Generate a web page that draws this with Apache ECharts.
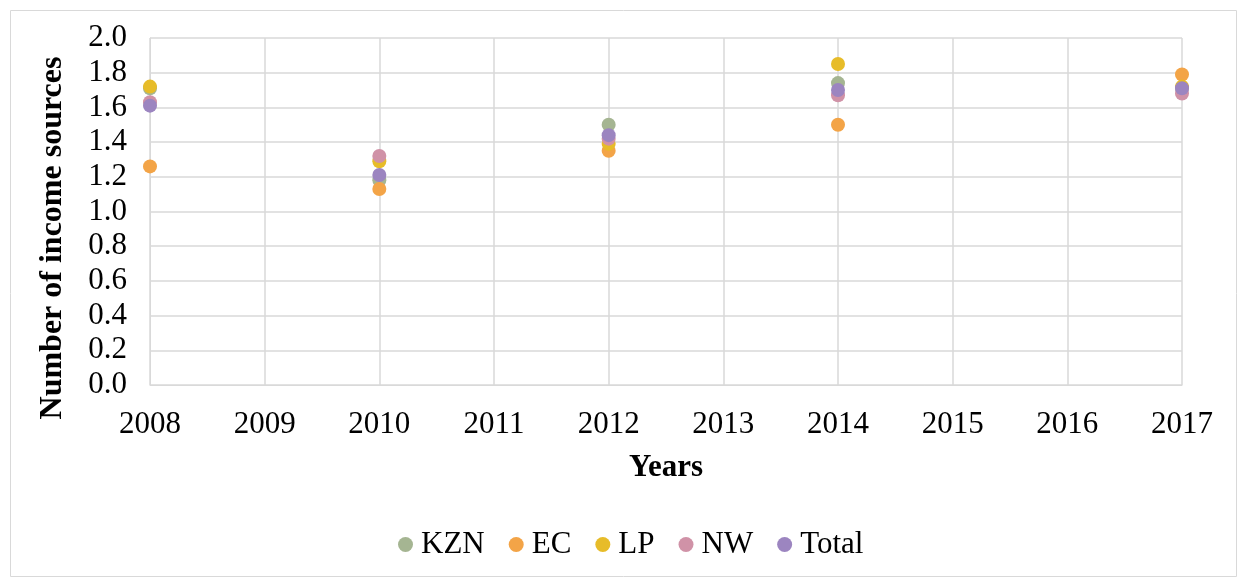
<!DOCTYPE html>
<html><head><meta charset="utf-8">
<script src="https://cdn.jsdelivr.net/npm/echarts@6/dist/echarts.min.js"></script>
<style>html,body{margin:0;padding:0;background:#fff}#c{width:1239px;height:579px}</style>
</head><body><div id="c"></div>
<script>
const years = [2008, 2010, 2012, 2014, 2017];
const seriesNames = ['KZN', 'EC', 'LP', 'NW', 'Total'];
const KZN = [1.71, 1.18, 1.50, 1.74, 1.71];
const EC = [1.26, 1.13, 1.35, 1.50, 1.79];
const LP = [1.72, 1.29, 1.39, 1.85, 1.72];
const NW = [1.63, 1.32, 1.42, 1.67, 1.68];
const Total = [1.61, 1.21, 1.44, 1.70, 1.71];
const colors = ['#a5b592', '#f3a447', '#e7bc29', '#d092a7', '#9c85c0'];
const values = [KZN, EC, LP, NW, Total];
const yTitle = 'Number of income sources';
const font = 'Liberation Serif, Times New Roman, serif';

const chart = echarts.init(document.getElementById('c'));
chart.setOption({
  animation: false,
  textStyle: {fontFamily: font},
  graphic: [
    {type: 'rect', shape: {x: 10.5, y: 10.5, width: 1226, height: 566}, style: {fill: 'none', stroke: '#d9d9d9', lineWidth: 1}, z: -1},
    {type: 'text', x: 53, y: 238, rotation: Math.PI / 2,
     style: {text: yTitle, fontFamily: font, fontSize: 32, fontWeight: 'bold', fill: '#000', align: 'center', verticalAlign: 'middle'}}
  ],
  grid: {left: 150, right: 57, top: 38, bottom: 194},
  xAxis: {
    type: 'value', min: 2008, max: 2017, interval: 1,
    name: 'Years', nameLocation: 'middle', nameGap: 67,
    nameTextStyle: {fontFamily: font, fontSize: 31, fontWeight: 'bold', color: '#000'},
    axisLine: {lineStyle: {color: '#d9d9d9'}},
    axisTick: {show: false},
    axisLabel: {fontFamily: font, fontSize: 31, color: '#000', margin: 24, formatter: v => String(v)},
    splitLine: {show: true, lineStyle: {color: '#d9d9d9', width: 1.5}}
  },
  yAxis: {
    type: 'value', min: 0, max: 2, interval: 0.2,
    axisLine: {show: true, lineStyle: {color: '#d9d9d9'}},
    axisTick: {show: false},
    axisLabel: {fontFamily: font, fontSize: 31, color: '#000', margin: 23, formatter: v => v.toFixed(1)},
    splitLine: {show: true, lineStyle: {color: '#d9d9d9', width: 1.5}}
  },
  legend: {
    top: 524, left: 393, icon: 'circle', itemWidth: 15, itemHeight: 15, itemGap: 24,
    textStyle: {fontFamily: font, fontSize: 31, color: '#000', padding: [0, 0, 0, 3]},
    data: seriesNames
  },
  series: seriesNames.map((n, i) => ({
    name: n, type: 'scatter', symbolSize: 14,
    itemStyle: {color: colors[i], opacity: 1},
    data: years.map((y, j) => [y, values[i][j]])
  }))
});
</script></body></html>
